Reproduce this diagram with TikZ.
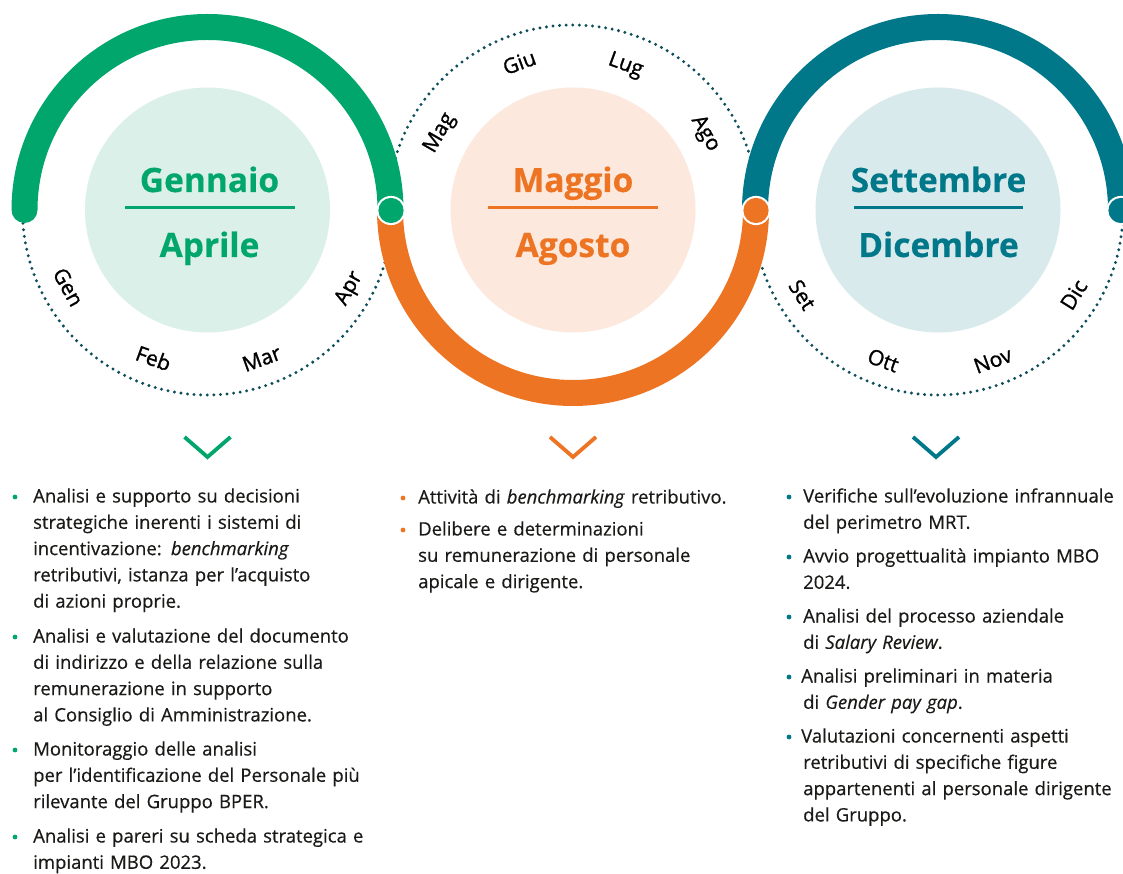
\documentclass[tikz,border=0pt]{standalone}
\usepackage{fontspec}
\setmainfont[FakeBold=0.4]{Open Sans}
\newfontfamily\monthfont[FakeBold=1.2]{Open Sans}
\definecolor{cgreen}{HTML}{00A66C}
\definecolor{cgreenl}{HTML}{DBF0E8}
\definecolor{corange}{HTML}{ED7422}
\definecolor{corangel}{HTML}{FCE8DD}
\definecolor{cteal}{HTML}{00788A}
\definecolor{ctealt}{HTML}{D9EAEC}
\definecolor{cdot}{HTML}{0E4D5C}
\definecolor{ctext}{HTML}{1A1A18}
\tikzset{
  dotline/.style={cdot, line width=3.3pt, line cap=round, dash pattern=on 0pt off 6.6pt},
  ring/.style={line width=26pt, line cap=round},
  head/.style={font=\fontsize{33.5}{36}\selectfont\bfseries, inner sep=0pt, anchor=base},
  month/.style={font=\fontsize{21}{24}\monthfont, text=black, inner sep=0pt, text height=15pt, text depth=0pt},
  chev/.style={line width=3.8pt, line join=miter},
  bul/.style={circle, minimum size=4.8pt, inner sep=0pt},
  body/.style={font=\fontsize{18.5}{26.3}\selectfont, text=ctext, align=left, inner sep=0pt, text width=340pt, anchor=base west},
}
\begin{document}
\begin{tikzpicture}[x=1pt,y=1pt]
\useasboundingbox (0,0) rectangle (1123,873);
\fill[white] (0,0) rectangle (1123,873);
\clip (0,0) rectangle (1123,873);
\coordinate (cg) at (207.5,663);
\coordinate (co) at (573,663);
\coordinate (ct) at (938,663);
\coordinate (j1) at (391,662.5);
\coordinate (j2) at (756,662.5);
\coordinate (j3) at (1121,662.5);
% dotted half circles
\draw[dotline] ([shift={(180:185)}]cg) arc[start angle=180, end angle=360, radius=185];
\draw[dotline] ([shift={(180:185)}]co) arc[start angle=180, end angle=0, radius=185];
\draw[dotline] ([shift={(180:185)}]ct) arc[start angle=180, end angle=360, radius=185];
% thick rings
\draw[ring, corange] ([shift={(180:183)}]co) arc[start angle=180, end angle=360, radius=183];
\draw[ring, cgreen] ([shift={(180:183)}]cg) arc[start angle=180, end angle=0, radius=183];
\draw[ring, cteal] ([shift={(180:183)}]ct) arc[start angle=180, end angle=0, radius=183];
% junction dots
\fill[white] (j1) circle[radius=14.6];
\fill[cgreen] (j1) circle[radius=12.6];
\fill[white] (j2) circle[radius=14.6];
\fill[corange] (j2) circle[radius=12.6];
\fill[white] (j3) circle[radius=14.6];
\fill[cteal] (j3) circle[radius=12.6];
% inner circles
\fill[cgreenl] (cg) circle[radius=122.5];
\fill[corangel] (co) circle[radius=122.5];
\fill[ctealt] (ct) circle[radius=122.5];
% headings
\node[head, text=cgreen] (h1) at (209.5,681) {Gennaio};
\node[head, text=cgreen] (h2) at (209.5,616) {Aprile};
\draw[cgreen, line width=3pt] (125,665) -- (295,665);
\node[head, text=corange] (h3) at (573,681) {Maggio};
\node[head, text=corange] (h4) at (573,616) {Agosto};
\draw[corange, line width=3pt] (488,665) -- (658,665);
\node[head, text=cteal] (h5) at (938.5,681) {Settembre};
\node[head, text=cteal] (h6) at (938.5,616) {Dicembre};
\draw[cteal, line width=3pt] (854,665) -- (1023,665);
% months
\node[month, rotate=299] (m1) at ([shift={(209:159)}]cg) {Gen};
\node[month, rotate=340] (m2) at ([shift={(250:158)}]cg) {Feb};
\node[month, rotate=20] (m3) at ([shift={(290:158)}]cg) {Mar};
\node[month, rotate=61] (m4) at ([shift={(331:160)}]cg) {Apr};
\node[month, rotate=60] (m5) at ([shift={(150:156)}]co) {Mag};
\node[month, rotate=20] (m6) at ([shift={(110:157)}]co) {Giu};
\node[month, rotate=-20] (m7) at ([shift={(70:156)}]co) {Lug};
\node[month, rotate=-60] (m8) at ([shift={(30:155)}]co) {Ago};
\node[month, rotate=302] (m9) at ([shift={(212:160)}]ct) {Set};
\node[month, rotate=340] (m10) at ([shift={(250:160)}]ct) {Ott};
\node[month, rotate=20] (m11) at ([shift={(290:160)}]ct) {Nov};
\node[month, rotate=58] (m12) at ([shift={(328:160)}]ct) {Dic};
% chevrons
\draw[chev, cgreen] (184.5,436) -- (207.5,416) -- (230.5,436);
\draw[chev, corange] (550,436) -- (573,416) -- (596,436);
\draw[chev, cteal] (913,436) -- (936,416) -- (959,436);
% green column
\node[bul, fill=cgreen] (gb1) at (15,376) {};
\node[body] (gt1) at (33,370.5) {Analisi e supporto su decisioni\\strategiche inerenti i sistemi di\\incentivazione: \textit{benchmarking}\\retributivi, istanza per l’acquisto\\di azioni proprie.};
\node[bul, fill=cgreen] (gb2) at (15,236) {};
\node[body] (gt2) at (33,230.5) {Analisi e valutazione del documento\\di indirizzo e della relazione sulla\\remunerazione in supporto\\al Consiglio di Amministrazione.};
\node[bul, fill=cgreen] (gb3) at (15,123) {};
\node[body] (gt3) at (33,117.5) {Monitoraggio delle analisi\\per l’identificazione del Personale più\\rilevante del Gruppo BPER.};
\node[bul, fill=cgreen] (gb4) at (15,36) {};
\node[body] (gt4) at (33,30.5) {Analisi e pareri su scheda strategica e\\impianti MBO 2023.};
% orange column
\node[bul, fill=corange] (ob1) at (403,375) {};
\node[body] (ot1) at (418,369.5) {Attività di \textit{benchmarking} retributivo.};
\node[bul, fill=corange] (ob2) at (403,343) {};
\node[body] (ot2) at (418,337.5) {Delibere e determinazioni\\su remunerazione di personale\\apicale e dirigente.};
% teal column
\node[bul, fill=cteal] (tb1) at (789,376) {};
\node[body] (tt1) at (803,370.5) {Verifiche sull’evoluzione infrannuale\\del perimetro MRT.};
\node[bul, fill=cteal] (tb2) at (789,316) {};
\node[body] (tt2) at (803,310.5) {Avvio progettualità impianto MBO\\2024.};
\node[bul, fill=cteal] (tb3) at (789,256) {};
\node[body] (tt3) at (803,250.5) {Analisi del processo aziendale\\di \textit{Salary Review}.};
\node[bul, fill=cteal] (tb4) at (789,196) {};
\node[body] (tt4) at (803,190.5) {\hspace*{-2pt}Analisi preliminari in materia\\di \textit{Gender pay gap}.};
\node[bul, fill=cteal] (tb5) at (789,136) {};
\node[body] (tt5) at (803,130.5) {\hspace*{-2pt}Valutazioni concernenti aspetti\\retributivi di specifiche figure\\appartenenti al personale dirigente\\del Gruppo.};
\end{tikzpicture}
\end{document}
